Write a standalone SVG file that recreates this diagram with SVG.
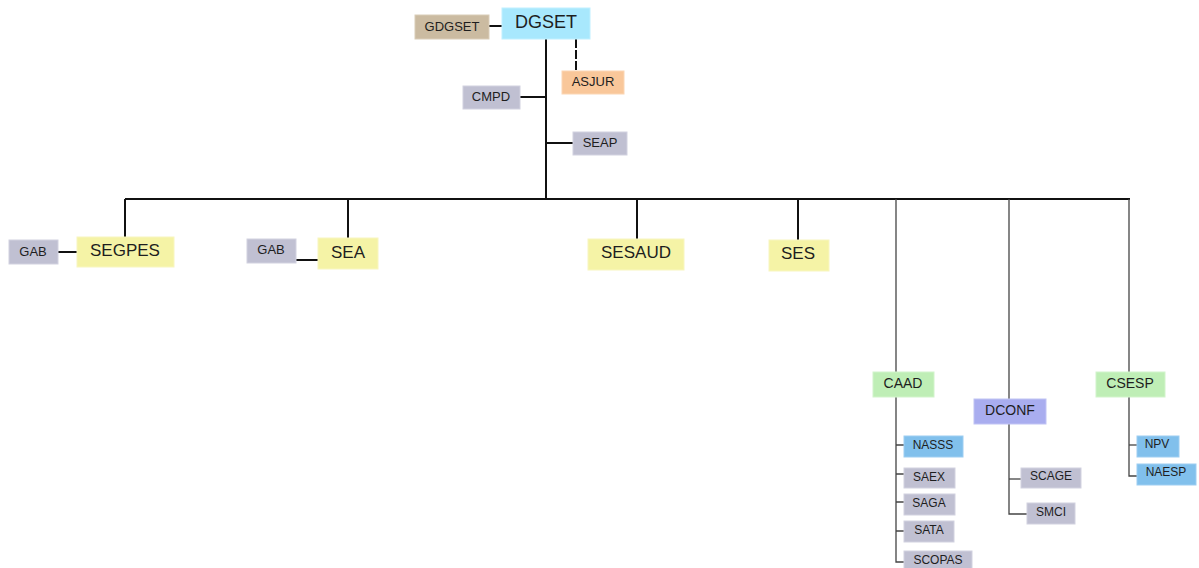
<svg xmlns="http://www.w3.org/2000/svg" width="1199" height="568" viewBox="0 0 1199 568">
  <style>
    text { font-family: "Liberation Sans", Arial, sans-serif; fill: #1e1e1e; text-anchor: middle; dominant-baseline: central; }
    .box { stroke-width: 1; }
    .gray { fill: #c0c0d2; stroke: #d2d2e0; }
    .yellow { fill: #f5f3a6; stroke: #f8f6c0; }
    .cyan { fill: #a8e8fd; stroke: #c0f0ff; }
    .tan { fill: #cbbba1; stroke: #dacdb8; }
    .orange { fill: #f9c79a; stroke: #fbd6b4; }
    .green { fill: #bfeeb6; stroke: #d2f4cb; }
    .purple { fill: #a9adef; stroke: #c0c3f4; }
    .blue { fill: #81c0ec; stroke: #9dcef2; }
    .s12 { font-size: 12px; }
    .s13 { font-size: 13px; }
    .s14 { font-size: 14px; }
    .s17 { font-size: 17px; }
    .s18 { font-size: 18px; }
    .main { stroke: #111; stroke-width: 2; fill: none; }
    .thin { stroke: #444; stroke-width: 1.3; fill: none; }
    .dash { stroke: #111; stroke-width: 2; stroke-dasharray: 9 2; fill: none; }
  </style>

  <!-- connectors -->
  <g id="connectors">
    <path class="main" d="M489 26H502"/>
    <path class="main" d="M546 39V199"/>
    <path class="dash" d="M576 39V71"/>
    <path class="main" d="M520 97H546"/>
    <path class="main" d="M546 143H573"/>
    <path class="main" d="M125 199H1130"/>
    <path class="main" d="M125 199V237"/>
    <path class="main" d="M348 199V238"/>
    <path class="main" d="M637 199V239"/>
    <path class="main" d="M798 199V240"/>
    <path class="main" d="M58 252H77"/>
    <path class="main" d="M296 260H318"/>
    <path class="thin" d="M896 199V372"/>
    <path class="thin" d="M1009 199V399"/>
    <path class="thin" d="M1129 199V372"/>
    <!-- CAAD branch -->
    <path class="thin" d="M896 397V562H904"/>
    <path class="thin" d="M896 445H904M896 474H904M896 502H904M896 531H904"/>
    <!-- DCONF branch -->
    <path class="thin" d="M1009 424V514H1027"/>
    <path class="thin" d="M1009 479H1021"/>
    <!-- CSESP branch -->
    <path class="thin" d="M1129 397V476H1137"/>
    <path class="thin" d="M1129 445H1137"/>
  </g>

  <!-- top level -->
  <g id="dgset"><rect class="box cyan" x="502" y="8" width="88" height="31"/><text class="s18" x="546" y="22">DGSET</text></g>
  <g id="gdgset"><rect class="box tan" x="415" y="15" width="74" height="24"/><text class="s13" x="452" y="26">GDGSET</text></g>
  <g id="asjur"><rect class="box orange" x="562" y="71" width="62" height="23"/><text class="s13" x="593" y="81">ASJUR</text></g>
  <g id="cmpd"><rect class="box gray" x="463" y="86" width="57" height="23"/><text class="s13" x="491" y="96">CMPD</text></g>
  <g id="seap"><rect class="box gray" x="573" y="132" width="54" height="23"/><text class="s13" x="600" y="142">SEAP</text></g>

  <!-- secretariats -->
  <g id="segpes"><rect class="box yellow" x="77" y="237" width="97" height="30"/><text class="s17" x="125" y="250">SEGPES</text></g>
  <g id="gab-segpes"><rect class="box gray" x="9" y="240" width="49" height="24"/><text class="s13" x="33" y="251">GAB</text></g>
  <g id="sea"><rect class="box yellow" x="318" y="238" width="60" height="31"/><text class="s17" x="348" y="252">SEA</text></g>
  <g id="gab-sea"><rect class="box gray" x="247" y="239" width="49" height="24"/><text class="s13" x="271" y="249">GAB</text></g>
  <g id="sesaud"><rect class="box yellow" x="588" y="239" width="96" height="31"/><text class="s17" x="636" y="252">SESAUD</text></g>
  <g id="ses"><rect class="box yellow" x="769" y="240" width="60" height="31"/><text class="s17" x="798" y="253">SES</text></g>

  <!-- CAAD -->
  <g id="caad"><rect class="box green" x="873" y="372" width="61" height="25"/><text class="s14" x="903" y="383">CAAD</text></g>
  <g id="nasss"><rect class="box blue" x="904" y="436" width="59" height="21"/><text class="s12" x="933" y="445">NASSS</text></g>
  <g id="saex"><rect class="box gray" x="904" y="468" width="51" height="20"/><text class="s12" x="929" y="477">SAEX</text></g>
  <g id="saga"><rect class="box gray" x="904" y="494" width="51" height="21"/><text class="s12" x="929" y="503">SAGA</text></g>
  <g id="sata"><rect class="box gray" x="904" y="521" width="50" height="21"/><text class="s12" x="929" y="530">SATA</text></g>
  <g id="scopas"><rect class="box gray" x="904" y="551" width="68" height="21"/><text class="s12" x="938" y="560">SCOPAS</text></g>

  <!-- DCONF -->
  <g id="dconf"><rect class="box purple" x="974" y="399" width="72" height="25"/><text class="s14" x="1010" y="410">DCONF</text></g>
  <g id="scage"><rect class="box gray" x="1021" y="468" width="60" height="20"/><text class="s12" x="1051" y="476">SCAGE</text></g>
  <g id="smci"><rect class="box gray" x="1027" y="503" width="48" height="21"/><text class="s12" x="1051" y="512">SMCI</text></g>

  <!-- CSESP -->
  <g id="csesp"><rect class="box green" x="1096" y="372" width="69" height="25"/><text class="s14" x="1130" y="383">CSESP</text></g>
  <g id="npv"><rect class="box blue" x="1137" y="436" width="42" height="21"/><text class="s12" x="1157" y="444">NPV</text></g>
  <g id="naesp"><rect class="box blue" x="1137" y="464" width="59" height="21"/><text class="s12" x="1166" y="472">NAESP</text></g>
</svg>
